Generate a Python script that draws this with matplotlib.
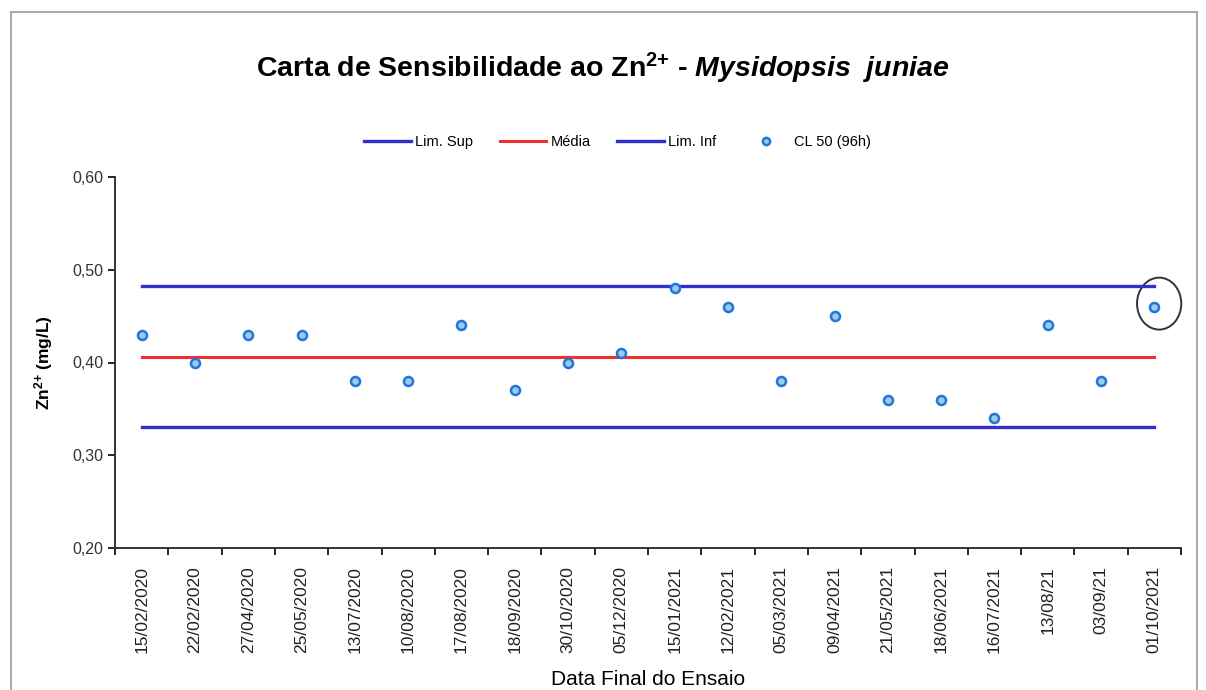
import numpy as np
import matplotlib.pyplot as plt
from matplotlib.patches import Ellipse, Rectangle

plt.rcParams['font.family'] = ['Liberation Sans', 'DejaVu Sans']
plt.rcParams['mathtext.fontset'] = 'custom'
plt.rcParams['mathtext.rm'] = 'Liberation Sans'
plt.rcParams['mathtext.it'] = 'Liberation Sans:italic'
plt.rcParams['mathtext.bf'] = 'Liberation Sans:bold'
plt.rcParams['mathtext.bfit'] = 'Liberation Sans:bold:italic'

# Dados
datas = ['15/02/2020', '22/02/2020', '27/04/2020', '25/05/2020', '13/07/2020',
         '10/08/2020', '17/08/2020', '18/09/2020', '30/10/2020', '05/12/2020',
         '15/01/2021', '12/02/2021', '05/03/2021', '09/04/2021', '21/05/2021',
         '18/06/2021', '16/07/2021', '13/08/21', '03/09/21', '01/10/2021']
cl50 = [0.43, 0.40, 0.43, 0.43, 0.38, 0.38, 0.44, 0.37, 0.40, 0.41,
        0.48, 0.46, 0.38, 0.45, 0.36, 0.36, 0.34, 0.44, 0.38, 0.46]
lim_sup = 0.483
media = 0.406
lim_inf = 0.330

x = np.arange(len(datas))

fig = plt.figure(figsize=(12.06, 6.9), dpi=100)
# moldura externa
fig.patches.append(Rectangle((11/1206, -0.01), 1186/1206, 1 - 12/690 + 0.01,
                             transform=fig.transFigure, fill=False,
                             edgecolor='#999999', linewidth=1.2))
ax = fig.add_axes([115/1206, 142/690, 1066/1206, 371/690])

ax.plot(x, [lim_sup] * len(x), color='#3030d0', lw=2.4, label='Lim. Sup')
ax.plot(x, [media] * len(x), color='#ee3030', lw=2.2, label='Média')
ax.plot(x, [lim_inf] * len(x), color='#3030d0', lw=2.4, label='Lim. Inf')
ax.plot(x, cl50, 'o', color='#1f78d8', markerfacecolor='#9ec8f0',
        markeredgewidth=1.8, markersize=6.5, linestyle='none', label='CL 50 (96h)')

ax.add_patch(Ellipse((19.09, 0.4635), 0.83, 0.056, fill=False,
                     edgecolor='#333333', linewidth=1.4, clip_on=False))

ax.set_xlim(-0.5, len(x) - 0.5)
ax.set_ylim(0.2, 0.6)
ax.set_yticks([0.2, 0.3, 0.4, 0.5, 0.6])
ax.set_yticklabels(['0,20', '0,30', '0,40', '0,50', '0,60'], fontsize=11.5, color='#333333')
ax.set_xticks(x)
ax.set_xticklabels(datas, rotation=90, fontsize=12.5, color='#222222')
ax.set_xticks(np.arange(-0.5, len(x)), minor=True)
ax.tick_params(axis='x', which='major', length=0, pad=13)
ax.tick_params(axis='x', which='minor', length=5, direction='out', width=1.2)
ax.tick_params(axis='y', length=5, direction='out', width=1.2)
for s in ['top', 'right']:
    ax.spines[s].set_visible(False)
for s in ['left', 'bottom']:
    ax.spines[s].set_linewidth(1.4)
    ax.spines[s].set_color('#333333')

ax.set_ylabel(r'Zn$^{\mathbf{2{+}}}$ (mg/L)', fontsize=12.5, fontweight='bold', labelpad=12)
ax.set_xlabel('Data Final do Ensaio', fontsize=15, labelpad=12)

fig.text(0.5, 1 - 68/690, r'Carta de Sensibilidade ao Zn$^{\mathbf{2{+}}}$ - $\mathbfit{Mysidopsis\ \ juniae}$',
         ha='center', va='center', fontsize=20.5, fontweight='bold')

fig.legend(loc='center', bbox_to_anchor=(0.512, 1 - 142/690), ncol=4, frameon=False,
           fontsize=10.5, handlelength=3.2, columnspacing=1.8, handletextpad=0.3,
           markerscale=0.8)

fig.savefig('out.png', dpi=100)
